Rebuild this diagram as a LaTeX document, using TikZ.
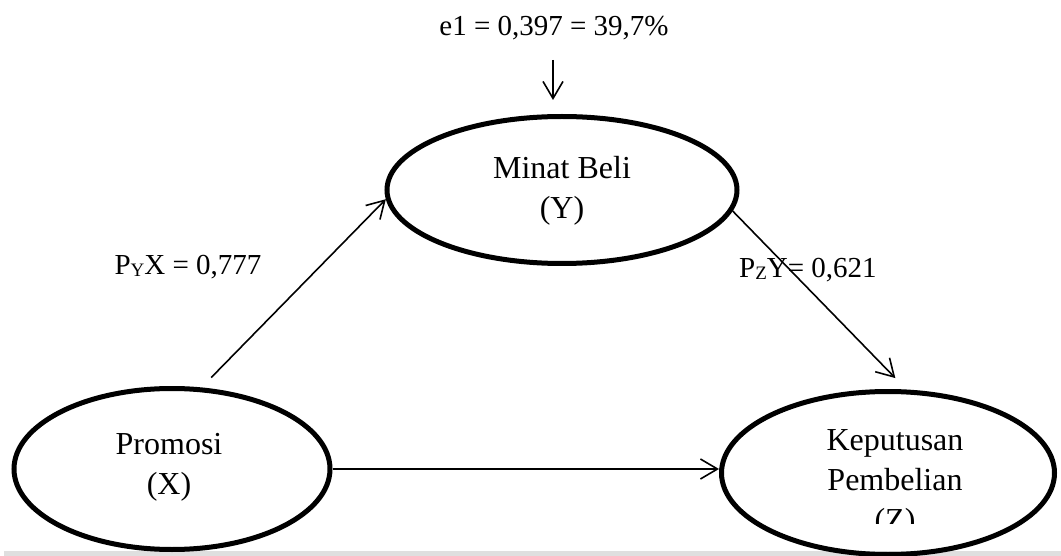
\documentclass[tikz,border=0pt]{standalone}
\usepackage{fontspec}
\setmainfont{Liberation Serif}
\usetikzlibrary{shapes.geometric,arrows.meta}
\tikzset{
  var/.style={ellipse, draw=black, line width=5pt, inner sep=0pt},
  lbl/.style={inner sep=0pt, align=center, font=\fontsize{32}{40}\selectfont},
  coef/.style={inner sep=0pt, font=\fontsize{29}{34}\selectfont},
  arr/.style={line width=1.6pt, -{Straight Barb[length=17pt,width=20pt,line width=1.6pt]}}
}
\newcommand{\sml}[1]{\raisebox{-2pt}{\fontsize{19}{20}\selectfont #1}}
\begin{document}
\begin{tikzpicture}[x=1pt,y=-1pt]
\useasboundingbox (0,0) rectangle (1061,556);
% bottom grey band
\fill[gray!25] (4,551) rectangle (1061,556);
% ellipses
\node[var, minimum width=316pt, minimum height=161pt] (px) at (172,469) {};
\node[var, minimum width=350pt, minimum height=147pt] (my) at (562,190) {};
\node[var, minimum width=333pt, minimum height=163pt] (kp) at (888,473) {};
% ellipse texts
\node[lbl] (tpx) at (169,467) {Promosi\\(X)};
\node[lbl] (tmy) at (562,191) {Minat Beli\\(Y)};
\begin{scope}
  \clip (700,380) rectangle (1061,523);
  \node[lbl] (tkp) at (895,483) {Keputusan\\Pembelian\\(Z)};
\end{scope}
% coefficient labels
\node[coef] (e1) at (554,28) {e1 = 0,397 = 39,7\%};
\node[coef] (pyx) at (188,267) {P\sml{Y}X = 0,777};
\node[coef] (pzy) at (808,270) {P\sml{Z}Y= 0,621};
% connectors
\coordinate (etop) at (553,60);
\draw[arr] (etop) -- ([xshift=-9pt,yshift=14pt]my.north);
\draw[arr] ([yshift=11pt]px.64.6) -- (my.183);
\draw[arr] (my.-7) -- ([yshift=11pt]kp.85);
\draw[arr] (px.east) -- (kp.west |- px.east);
\end{tikzpicture}
\end{document}
